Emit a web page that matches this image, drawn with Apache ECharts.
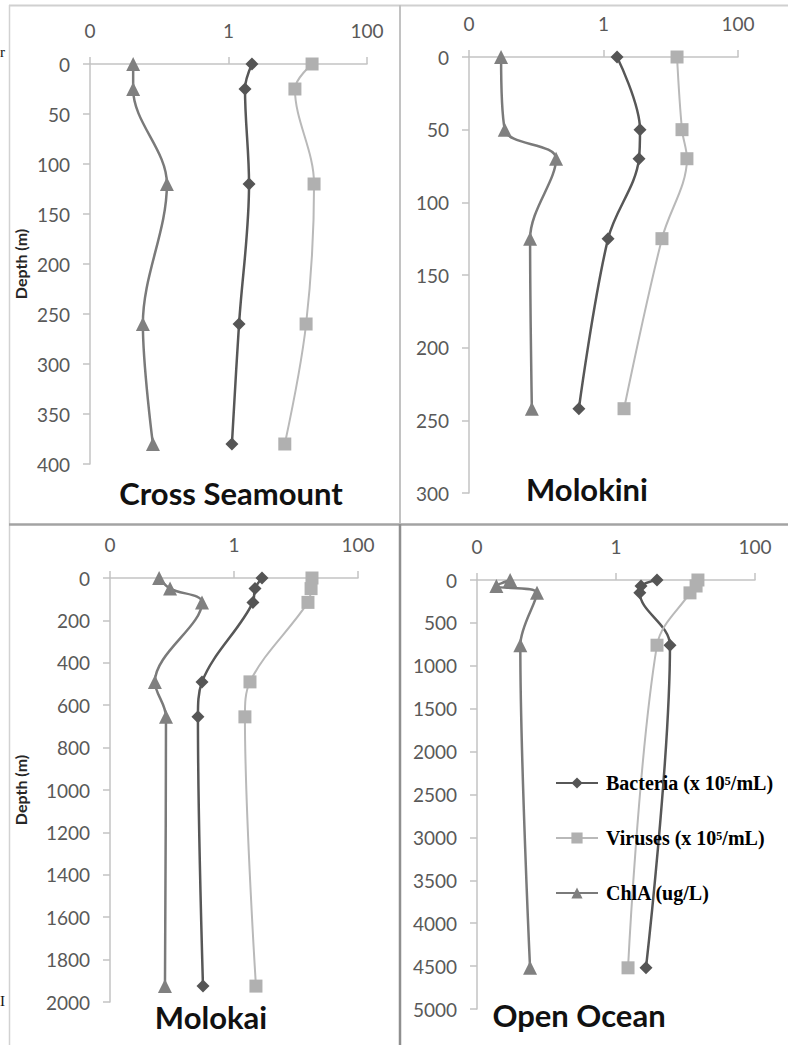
<!DOCTYPE html>
<html>
<head>
<meta charset="utf-8">
<title>Depth profiles</title>
<script src="https://cdn.jsdelivr.net/npm/echarts@6/dist/echarts.min.js"></script>
<style>
  html, body { margin: 0; padding: 0; background: #ffffff; }
  #chart { width: 788px; height: 1045px; }
</style>
</head>
<body>
<div id="chart"></div>
<script>
// Station profiles: depth (m) and values on a log scale
const seriesNames = ['Bacteria (x 10\u2075/mL)', 'Viruses (x 10\u2075/mL)', 'ChlA (ug/L)'];
const stationNames = ['Cross Seamount', 'Molokini', 'Molokai', 'Open Ocean'];
const xTickLabels = ['0', '1', '100'];

const crossDepth    = [0, 25, 120, 260, 380];
const crossBacteria = [2.18, 1.73, 1.98, 1.42, 1.12];
const crossViruses  = [16.1, 9.1, 17.2, 13.2, 6.5];
const crossChlA     = [0.042, 0.042, 0.129, 0.058, 0.081];

const molokiniDepth    = [0, 50, 70, 125, 242];
const molokiniBacteria = [1.59, 3.49, 3.37, 1.17, 0.43];
const molokiniViruses  = [12.4, 14.7, 17.4, 7.4, 2.02];
const molokiniChlA     = [0.030, 0.034, 0.197, 0.081, 0.086];

const molokaiDepth    = [0, 50, 115, 490, 655, 1925];
const molokaiBacteria = [2.83, 2.18, 2.02, 0.305, 0.262, 0.316];
const molokaiViruses  = [18.1, 17.5, 15.6, 1.81, 1.50, 2.26];
const molokaiChlA     = [0.062, 0.093, 0.305, 0.053, 0.080, 0.077];

const oceanDepth    = [0, 70, 150, 760, 4520];
const oceanBacteria = [3.89, 2.29, 2.2, 5.98, 2.70];
const oceanViruses  = [15.1, 14.2, 11.6, 3.89, 1.49];
const oceanChlA     = [0.030, 0.019, 0.073, 0.042, 0.058];

const depthMax      = [400, 300, 2000, 5000];
const depthInterval = [50, 50, 200, 500];

const stations = [
  { depth: crossDepth,    values: [crossBacteria, crossViruses, crossChlA] },
  { depth: molokiniDepth, values: [molokiniBacteria, molokiniViruses, molokiniChlA] },
  { depth: molokaiDepth,  values: [molokaiBacteria, molokaiViruses, molokaiChlA] },
  { depth: oceanDepth,    values: [oceanBacteria, oceanViruses, oceanChlA] }
];

// Layout of the four panels
const grids = [
  { left: 90,  top: 64,  width: 277, height: 400 },
  { left: 469, top: 57,  width: 269, height: 436 },
  { left: 110, top: 578, width: 248, height: 424 },
  { left: 477, top: 580, width: 278, height: 429 }
];
const titlePos = [[231, 493], [587, 489], [211, 1017], [579, 1015]];

const styles = [
  { line: '#575757', marker: '#555555', symbol: 'diamond',  size: 13, width: 2.5 },
  { line: '#b9b9b9', marker: '#b0b0b0', symbol: 'rect',     size: 13, width: 2 },
  { line: '#7a7a7a', marker: '#808080', symbol: 'triangle', size: 14, width: 2.5 }
];

const tickFont = { fontFamily: 'Lato', fontSize: 19, color: '#595959' };
const axisGrey = '#c3c3c3';

const xAxes = grids.map((g, i) => ({
  type: 'log',
  logBase: 100,
  min: 0.01,
  max: 100,
  gridIndex: i,
  position: 'top',
  axisLine: { show: true, lineStyle: { color: axisGrey, width: 1.5 } },
  axisTick: { show: true, length: 7, lineStyle: { color: axisGrey, width: 1.5 } },
  splitLine: { show: false },
  minorTick: { show: false },
  axisLabel: Object.assign({
    margin: 24,
    formatter: v => (v < 0.5 ? xTickLabels[0] : (v < 50 ? xTickLabels[1] : xTickLabels[2]))
  }, tickFont)
}));

const yAxes = grids.map((g, i) => ({
  type: 'value',
  gridIndex: i,
  inverse: true,
  min: 0,
  max: depthMax[i],
  interval: depthInterval[i],
  position: 'left',
  name: (i === 0 || i === 2) ? 'Depth (m)' : '',
  nameLocation: 'middle',
  nameRotate: 90,
  nameGap: i === 0 ? 62 : 82,
  nameTextStyle: { fontFamily: 'Lato', fontWeight: 'bold', fontSize: 16, color: '#262626' },
  axisLine: { show: true, lineStyle: { color: axisGrey, width: 1.5 } },
  axisTick: { show: true, length: 7, lineStyle: { color: axisGrey, width: 1.5 } },
  splitLine: { show: false },
  axisLabel: Object.assign({ margin: 20, formatter: v => String(v) }, tickFont)
}));

const series = [];
stations.forEach((st, gi) => {
  st.values.forEach((vals, si) => {
    const s = styles[si];
    series.push({
      name: seriesNames[si],
      type: 'line',
      xAxisIndex: gi,
      yAxisIndex: gi,
      smooth: 0.35,
      symbol: s.symbol,
      symbolSize: s.size,
      showSymbol: true,
      lineStyle: { color: s.line, width: s.width },
      itemStyle: { color: s.marker },
      emphasis: { disabled: true },
      data: vals.map((v, k) => [v, st.depth[k]])
    });
  });
});

const frame = { stroke: '#d2d2d2', lineWidth: 1.5 };
const graphic = [
  { type: 'line', shape: { x1: 9, y1: 5.5, x2: 788, y2: 5.5 }, style: { stroke: '#d0d0d0', lineWidth: 2 } },
  { type: 'line', shape: { x1: 9.5, y1: 5, x2: 9.5, y2: 1045 }, style: frame },
  { type: 'line', shape: { x1: 400, y1: 5, x2: 400, y2: 523 }, style: { stroke: '#c2c2c2', lineWidth: 2 } },
  { type: 'line', shape: { x1: 9, y1: 524.5, x2: 788, y2: 524.5 }, style: { stroke: '#a3a3a3', lineWidth: 2.5 } },
  { type: 'line', shape: { x1: 400, y1: 524, x2: 400, y2: 1045 }, style: { stroke: '#8f8f8f', lineWidth: 2.5 } },
  // short words at the left edge of the figure
  { type: 'text', x: 0, y: 52, style: { text: 'r', font: '15px "Liberation Serif"', fill: '#111', verticalAlign: 'middle' } },
  { type: 'text', x: 0, y: 1001, style: { text: 'I', font: '15px "Liberation Serif"', fill: '#111', verticalAlign: 'middle' } }
].concat(stationNames.map((t, i) => ({
  type: 'text',
  x: titlePos[i][0],
  y: titlePos[i][1],
  style: { text: t, font: 'bold 31px Lato', fill: '#111111', align: 'center', verticalAlign: 'middle' }
})));

const chart = echarts.init(document.getElementById('chart'), null, { renderer: 'svg' });
chart.setOption({
  animation: false,
  backgroundColor: '#ffffff',
  grid: grids,
  xAxis: xAxes,
  yAxis: yAxes,
  legend: {
    orient: 'vertical',
    left: 550,
    top: 768,
    itemWidth: 42,
    itemHeight: 14,
    itemGap: 35,
    data: seriesNames,
    textStyle: { fontFamily: 'Liberation Serif', fontWeight: 'bold', fontSize: 20, color: '#000', padding: [0, 0, 0, 3] }
  },
  graphic: graphic,
  series: series
});
</script>
</body>
</html>
